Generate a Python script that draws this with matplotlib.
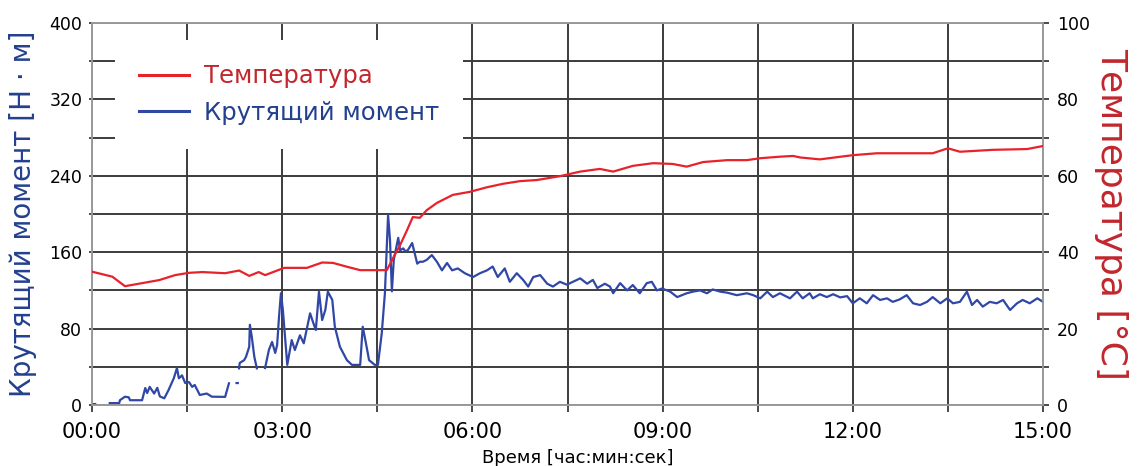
import numpy as np
import matplotlib
matplotlib.use("Agg")
import matplotlib.pyplot as plt
from matplotlib.ticker import FixedLocator

nan = float("nan")

# Torque (left axis, N·m) — time in minutes
torque_t = [0.02, 0.05, 0.10,
            0.28, 0.43, 0.44, 0.52, 0.58, 0.60, 0.79, 0.84, 0.87, 0.91, 0.98, 1.03,
            1.07, 1.14, 1.21, 1.29, 1.34, 1.37, 1.42, 1.47, 1.53, 1.58, 1.62, 1.70,
            1.81, 1.89, 2.10, 2.13, 2.16, 2.20,
            2.28, 2.30, 2.31,
            2.32, 2.33, 2.40, 2.43, 2.48, 2.49, 2.52, 2.56, 2.60, 2.65,
            2.73, 2.79, 2.84, 2.89, 2.92, 2.95, 2.98, 3.01, 3.04, 3.08, 3.15, 3.20,
            3.28, 3.34, 3.44, 3.49, 3.53, 3.58, 3.63, 3.68, 3.72, 3.79, 3.83, 3.91,
            4.02, 4.10, 4.23, 4.27, 4.32, 4.37, 4.46, 4.51, 4.57, 4.62, 4.67, 4.70,
            4.73, 4.76, 4.83, 4.86, 4.91, 4.94, 4.98, 5.05, 5.13, 5.17, 5.22, 5.28,
            5.36, 5.44, 5.52, 5.60, 5.68, 5.77, 5.88, 6.01, 6.12, 6.23, 6.32, 6.40,
            6.51, 6.59, 6.70, 6.80, 6.88, 6.96, 7.07, 7.18, 7.27, 7.38, 7.49, 7.70,
            7.81, 7.90, 7.97, 8.09, 8.17, 8.22, 8.33, 8.44, 8.53, 8.64, 8.75, 8.83,
            8.91, 8.99, 9.12, 9.23, 9.38, 9.48, 9.59, 9.70, 9.79, 9.91, 10.02, 10.17,
            10.33, 10.43, 10.54, 10.65, 10.74, 10.85, 11.01, 11.12, 11.21, 11.32,
            11.37, 11.48, 11.59, 11.69, 11.80, 11.91, 12.00, 12.11, 12.22, 12.32,
            12.43, 12.54, 12.63, 12.74, 12.85, 12.95, 13.06, 13.17, 13.26, 13.38,
            13.49, 13.58, 13.69, 13.80, 13.88, 13.96, 14.05, 14.16, 14.27, 14.37,
            14.48, 14.59, 14.68, 14.79, 14.91, 15.00]
torque_v = [1, 1, nan,
            2, 2, 5, 8.7, 8, 5, 5, 17.8, 12.5, 19, 12, 18,
            9, 7, 16, 28, 38.7, 28, 31, 23, 24, 19, 21, 10.5,
            12, 8.7, 8.5, 15.7, 22.7, nan,
            23, 23, nan,
            38.4, 44, 47, 50.6, 61, 84, 71.5, 50.6, 38.4, nan,
            38.7, 57.6, 66, 54.5, 62.8, 92.5, 117, 100, 75, 42, 68, 57.6,
            73, 64.6, 96, 86, 78.5, 118.7, 89, 99.5, 118.7, 110, 82, 61,
            47, 42, 42, 82, 65, 47, 42, 42, 75, 117, 199, 173,
            119, 152, 175, 162, 164, 161, 162, 169.6, 148, 150, 150, 152,
            157, 150, 141, 148.7, 141, 143, 138, 134, 138, 141, 145, 134,
            143, 129, 138, 131, 124, 134, 136, 127, 124, 129, 126, 132.6,
            127, 131, 122.5, 127, 124, 117, 127.6, 120, 125.6, 117, 127.6, 129,
            120, 122, 118.7, 113, 117, 118.7, 120, 117, 121, 118.7, 117.6, 115,
            117, 115, 111.7, 118.7, 113, 117, 111.7, 118.7, 111.7, 117,
            111.7, 116, 113, 116, 112.7, 114, 106.5, 111.7, 106.5, 115,
            110, 111.7, 108, 110.6, 115, 106.5, 104.7, 108, 113, 106.5,
            111.7, 106.5, 108, 118.7, 104.7, 110, 103, 108, 106.5, 110,
            99.5, 106.5, 110, 106.5, 111.7, 108]

# Temperature (right axis, °C)
temp_t = [0.00, 0.32, 0.52, 0.79, 1.06, 1.31, 1.53, 1.74, 2.10, 2.32, 2.48, 2.63,
          2.73, 2.92, 3.03, 3.17, 3.39, 3.63, 3.80, 4.02, 4.23, 4.65, 4.75, 4.86,
          4.97, 5.06, 5.17, 5.28, 5.44, 5.69, 5.96, 6.23, 6.48, 6.75, 7.02, 7.38,
          7.70, 8.01, 8.22, 8.53, 8.85, 9.16, 9.38, 9.64, 10.02, 10.33, 10.54,
          10.85, 11.06, 11.17, 11.48, 12.00, 12.38, 12.90, 13.26, 13.50, 13.69,
          14.21, 14.75, 15.00]
temp_v = [34.9, 33.6, 31.1, 31.9, 32.7, 34.0, 34.6, 34.8, 34.5, 35.2, 33.8, 34.8,
          34.0, 35.2, 35.9, 35.9, 35.9, 37.3, 37.2, 36.2, 35.3, 35.3, 38.5, 41.9,
          45.8, 49.2, 49.0, 51.0, 52.9, 55.0, 55.8, 57.0, 57.9, 58.6, 58.9, 59.9,
          61.1, 61.8, 61.1, 62.6, 63.3, 63.1, 62.4, 63.6, 64.1, 64.1, 64.6,
          65.0, 65.2, 64.8, 64.3, 65.4, 65.9, 65.9, 65.9, 67.2, 66.3,
          66.8, 67.0, 67.8]

x_tick_labels = ["00:00", "03:00", "06:00", "09:00", "12:00", "15:00"]
left_tick_labels = ["0", "80", "160", "240", "320", "400"]
right_tick_labels = ["0", "20", "40", "60", "80", "100"]

RED = "#E8222B"
RED_TXT = "#C1272D"
BLUE = "#3147A6"
BLUE_TXT = "#22408E"
GRID = "#3c3c3c"

fig = plt.figure(figsize=(11.37, 4.66), dpi=100)
ax = fig.add_axes([92/1137, 1 - 405/466, (1043-92)/1137, (405-23)/466])
ax2 = ax.twinx()

ax.set_xlim(0, 15)
ax.set_ylim(0, 400)
ax2.set_ylim(0, 100)

ax.plot(torque_t, torque_v, color=BLUE, lw=1.6, zorder=3)
ax2.plot(temp_t, temp_v, color=RED, lw=1.6, zorder=3)

xt = [i * 1.5 for i in range(11)]
ax.xaxis.set_major_locator(FixedLocator(xt))
ax.set_xticklabels([x_tick_labels[i // 2] if i % 2 == 0 else "" for i in range(11)])
yt = [i * 40 for i in range(11)]
ax.yaxis.set_major_locator(FixedLocator(yt))
ax.set_yticklabels([left_tick_labels[i // 2] if i % 2 == 0 else "" for i in range(11)])
yt2 = [i * 10 for i in range(11)]
ax2.yaxis.set_major_locator(FixedLocator(yt2))
ax2.set_yticklabels([right_tick_labels[i // 2] if i % 2 == 0 else "" for i in range(11)])

ax.grid(True, color=GRID, lw=1.4, zorder=1)
ax.set_axisbelow(True)
ax.tick_params(axis="x", length=5, width=1.3, color=GRID, labelsize=15, pad=7)
ax.tick_params(axis="y", length=2, width=1.3, color=GRID, labelsize=12.5, pad=5)
ax2.tick_params(axis="y", length=4, width=1.3, color=GRID, labelsize=12.5, pad=6)

for a in (ax, ax2):
    for s in a.spines.values():
        s.set_color("#9a9a9a")
        s.set_linewidth(1.2)

ax.set_ylabel("Крутящий момент [Н · м]", color=BLUE_TXT, fontsize=20, labelpad=9)
ax2.set_ylabel("Температура [°C]", color=RED_TXT, fontsize=26, rotation=-90,
               va="bottom", labelpad=3)
ax.set_xlabel("Время [час:мин:сек]", fontsize=13, labelpad=4)
ax.xaxis.set_label_coords(0.511, -0.115)

h1 = ax2.get_lines()[0]
h2 = ax.get_lines()[0]
leg = ax2.legend([h1, h2], ["Температура", "Крутящий момент"], loc="upper left",
                 bbox_to_anchor=(0.024, 0.955), borderaxespad=0, borderpad=1.0,
                 frameon=True, facecolor="white", edgecolor="none", framealpha=1,
                 fontsize=17.5, handlelength=2.05, handletextpad=0.6,
                 labelspacing=0.5, fancybox=False)
leg.get_texts()[0].set_color(RED_TXT)
leg.get_texts()[1].set_color(BLUE_TXT)
for ln in leg.get_lines():
    ln.set_linewidth(2.2)
leg.set_zorder(5)

fig.savefig("out.png", dpi=100)
